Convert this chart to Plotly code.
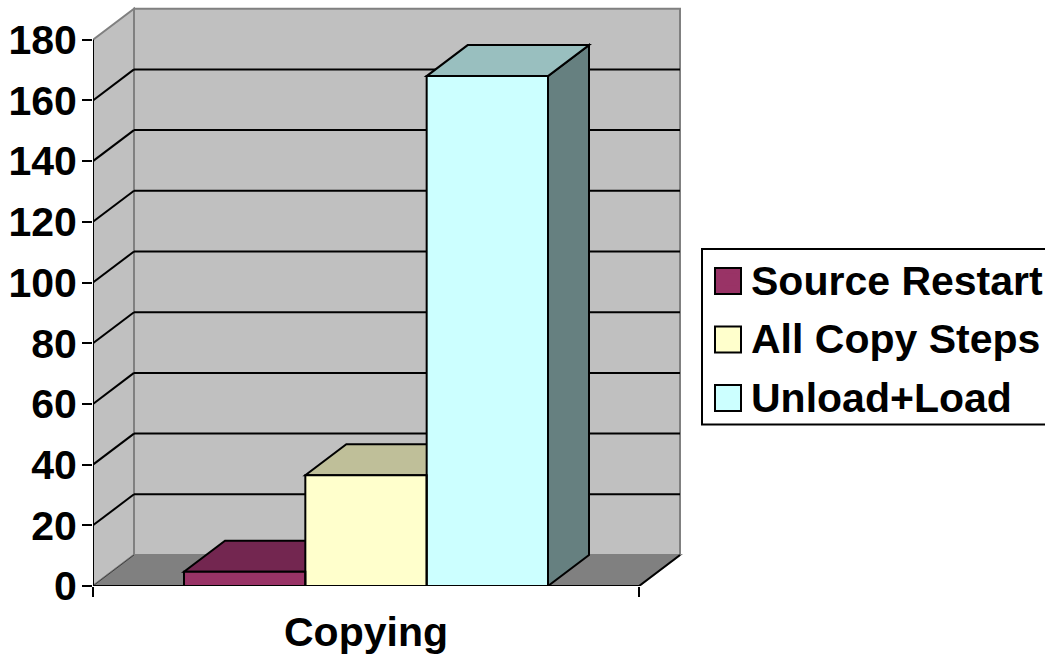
import plotly.graph_objects as go

# Chart data
category = "Copying"
series_names = ["Source Restart", "All Copy Steps", "Unload+Load"]
series_values = [4.7, 36.5, 168]
y_ticks = [0, 20, 40, 60, 80, 100, 120, 140, 160, 180]

# Face colours: front, top (shaded), side (darker)
front_colors = ["#993366", "#FFFFCC", "#CCFFFF"]
top_colors = ["#732650", "#BFBF99", "#99BFBF"]
side_colors = ["#4D1A33", "#808066", "#668080"]

FONT = "Liberation Sans, Arial, sans-serif"
W, H = 1045, 656
LEFT, BOTTOM, RIGHT, TOP = 93, 586, 684, 4   # plot area in pixels
PX_PER_X = 546.0                             # pixels for one category width
PX_PER_Y = (586 - 39.7) / 180                # pixels for one value unit
DX = 41 / PX_PER_X                           # oblique depth, in x units
DY = 31 / PX_PER_Y                           # oblique depth, in y units
Y_MAX = y_ticks[-1]
GAP = 1 / 3
BAR_W = (1 - GAP) / len(series_values)


def path(points):
    return "M" + " L".join(f"{x:.5f},{y:.4f}" for x, y in points) + " Z"


def face(points, fill, line="black", width=2):
    return dict(type="path", path=path(points), xref="x", yref="y", layer="below",
                fillcolor=fill, line=dict(color=line, width=width))


def seg(x0, y0, x1, y1, color, width=2):
    return dict(type="line", x0=x0, y0=y0, x1=x1, y1=y1, xref="x", yref="y",
                layer="below", line=dict(color=color, width=width))


def to_paper_x(px):
    return (px - LEFT) / (RIGHT - LEFT)


def to_paper_y(px):
    return (BOTTOM - px) / (BOTTOM - TOP)


shapes = [
    # back wall, side wall and floor
    face([(DX, DY), (1 + DX, DY), (1 + DX, Y_MAX + DY), (DX, Y_MAX + DY)], "#C0C0C0", "#808080"),
    face([(0, 0), (DX, DY), (DX, Y_MAX + DY), (0, Y_MAX)], "#C0C0C0", "#808080"),
    face([(0, 0), (1, 0), (1 + DX, DY), (DX, DY)], "#808080", "#808080"),
]

# gridlines run along the back wall and down the side wall
for t in y_ticks[1:-1]:
    shapes.append(seg(DX, t + DY, 1 + DX, t + DY, "black"))
    shapes.append(seg(0, t, DX, t + DY, "black"))
shapes.append(seg(0, 0, DX, DY, "#404040", 1))
shapes.append(seg(1, 0, 1 + DX, DY, "black"))

# top and side faces of each bar, left to right so later bars cover earlier ones
start = GAP / 2
bar_edges = []
for i, v in enumerate(series_values):
    x0 = start + i * BAR_W
    x1 = x0 + BAR_W
    bar_edges.append((x0, x1, v))
    shapes.append(face([(x1, 0), (x1 + DX, DY), (x1 + DX, v + DY), (x1, v)], side_colors[i]))
    shapes.append(face([(x0, v), (x1, v), (x1 + DX, v + DY), (x0 + DX, v + DY)], top_colors[i]))

# legend frame and key boxes
shapes.append(dict(type="rect", xref="paper", yref="paper", layer="below",
                   x0=to_paper_x(702), x1=to_paper_x(1050),
                   y0=to_paper_y(424.5), y1=to_paper_y(249),
                   fillcolor="white", line=dict(color="black", width=2)))
for color, (k0, k1) in zip(front_colors, [(268, 294), (326.5, 352.5), (385, 411)]):
    shapes.append(dict(type="rect", xref="paper", yref="paper", layer="below",
                       x0=to_paper_x(715), x1=to_paper_x(741),
                       y0=to_paper_y(k1), y1=to_paper_y(k0),
                       fillcolor=color, line=dict(color="black", width=2)))

fig = go.Figure()
for name, value, color in zip(series_names, series_values, front_colors):
    fig.add_trace(go.Bar(x=[0.5], y=[value], name=name, legendgroup=name,
                         marker=dict(color=color, line=dict(width=0)), hoverinfo="name+y"))

# front outlines of the bars
for x0, x1, v in bar_edges:
    fig.add_trace(go.Scatter(x=[x0, x0, x1, x1, x0], y=[0, v, v, 0, 0], mode="lines",
                             line=dict(color="black", width=2), showlegend=False,
                             cliponaxis=False, hoverinfo="skip"))

# axis lines stop at the last tick and the category edge
fig.add_trace(go.Scatter(x=[0, 0], y=[0, Y_MAX], mode="lines", line=dict(color="black", width=2),
                         showlegend=False, cliponaxis=False, hoverinfo="skip"))
fig.add_trace(go.Scatter(x=[0, 1], y=[0, 0], mode="lines", line=dict(color="black", width=2),
                         showlegend=False, cliponaxis=False, hoverinfo="skip"))

fig.update_layout(
    width=W, height=H,
    margin=dict(l=LEFT, r=W - RIGHT, t=TOP, b=H - BOTTOM, autoexpand=False),
    paper_bgcolor="white", plot_bgcolor="rgba(0,0,0,0)",
    barmode="group", bargap=GAP, bargroupgap=0,
    font=dict(family=FONT, size=41, color="black"),
    shapes=shapes,
    showlegend=True,
    legend=dict(xref="container", yref="container", x=711 / W, y=1 - 246 / H,
                xanchor="left", yanchor="top", bgcolor="rgba(0,0,0,0)", borderwidth=0,
                font=dict(family=FONT, size=41, color="black", weight="bold"),
                tracegroupgap=2, itemclick=False, itemdoubleclick=False),
    xaxis=dict(range=[0, (RIGHT - LEFT) / PX_PER_X], showgrid=False, zeroline=False,
               showline=False, tickmode="array", tickvals=[0.5], ticktext=[category],
               ticks="", ticklabelstandoff=18,
               tickfont=dict(family=FONT, size=41, color="black", weight="bold"),
               minor=dict(tickmode="array", tickvals=[0, 1], ticks="outside", ticklen=10,
                          tickwidth=2, tickcolor="black", showgrid=False)),
    yaxis=dict(range=[0, (BOTTOM - TOP) / PX_PER_Y], showgrid=False, zeroline=False,
               showline=False, tickmode="array", tickvals=y_ticks, ticks="outside",
               ticklen=10, tickwidth=2, tickcolor="black", ticklabelstandoff=-3,
               tickfont=dict(family=FONT, size=41, color="black", weight="bold")),
)

fig.write_html("out.html", config=dict(displayModeBar=False))
